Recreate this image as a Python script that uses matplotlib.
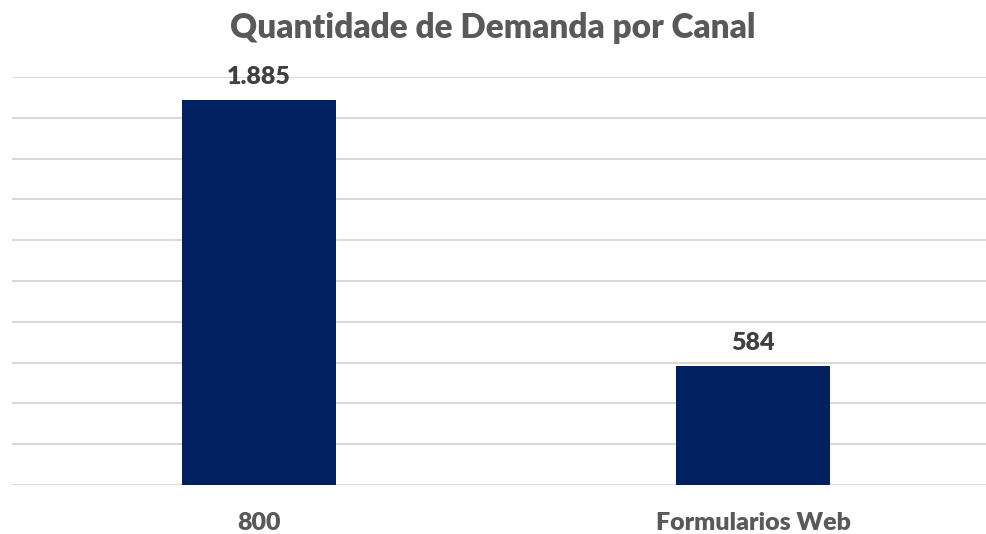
import matplotlib.pyplot as plt

# Quantidade de demanda por canal
categories = ['800', 'Formularios Web']
values = [1885, 584]
value_labels = ['1.885', '584']

plt.rcParams['font.family'] = ['Lato', 'DejaVu Sans']
W = 'heavy'

fig = plt.figure(figsize=(9.87, 5.34), dpi=100)
ax = fig.add_axes([12 / 987, 49 / 534, 988 / 987, 408 / 534])

x = range(len(categories))
ax.bar(x, values, width=0.31, color='#002060', zorder=2)

for xi, v, lab in zip(x, values, value_labels):
    ax.text(xi, v + 60, lab, ha='center', va='bottom', fontsize=18,
            fontweight=W, color='#404040', clip_on=False)

ax.set_xlim(-0.5, 1.5)
ax.set_ylim(0, 2000)
ax.set_yticks(range(0, 2001, 200))
ax.yaxis.grid(True, color='#d9d9d9', linewidth=1.5, zorder=0)
ax.set_axisbelow(True)
ax.tick_params(axis='y', left=False, labelleft=False)
ax.tick_params(axis='x', bottom=False, pad=16)
ax.set_xticks(list(x))
ax.set_xticklabels(categories, fontsize=18, fontweight=W, color='#595959')
for s in ax.spines.values():
    s.set_visible(False)

fig.text(493 / 987, 1 - 28 / 534, 'Quantidade de Demanda por Canal', ha='center',
         va='center', fontsize=24, fontweight=W, color='#595959')

fig.savefig('out.png', dpi=100)
